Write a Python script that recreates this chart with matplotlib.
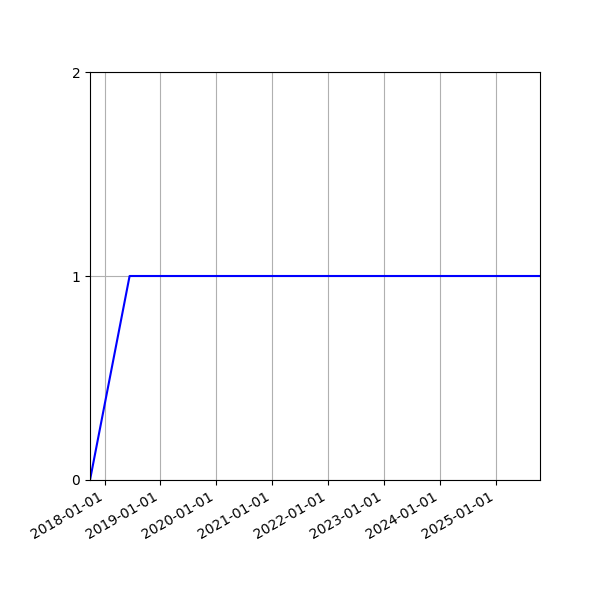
import matplotlib
matplotlib.use("Agg")
import matplotlib.pyplot as plt
import matplotlib.dates as mdates
import numpy as np

dates = np.array(["2017-09-28", "2018-06-14", "2025-10-19"], dtype="datetime64[D]")
values = [0, 1, 1]
yticks = [0, 1, 2]

fig, ax = plt.subplots(figsize=(6, 6), dpi=100)
fig.subplots_adjust(left=0.15, right=0.9, top=0.88, bottom=0.2)
ax.plot(dates, values, color="blue")
ax.set_xlim(dates[0], dates[-1])
ax.set_ylim(0, 2)
ax.set_yticks(yticks)
ax.xaxis.set_major_locator(mdates.YearLocator())
ax.xaxis.set_major_formatter(mdates.DateFormatter("%Y-%m-%d"))
ax.grid(True)
for lbl in ax.get_xticklabels():
    lbl.set_rotation(30)
    lbl.set_ha("right")
fig.savefig("out.png", dpi=100)
